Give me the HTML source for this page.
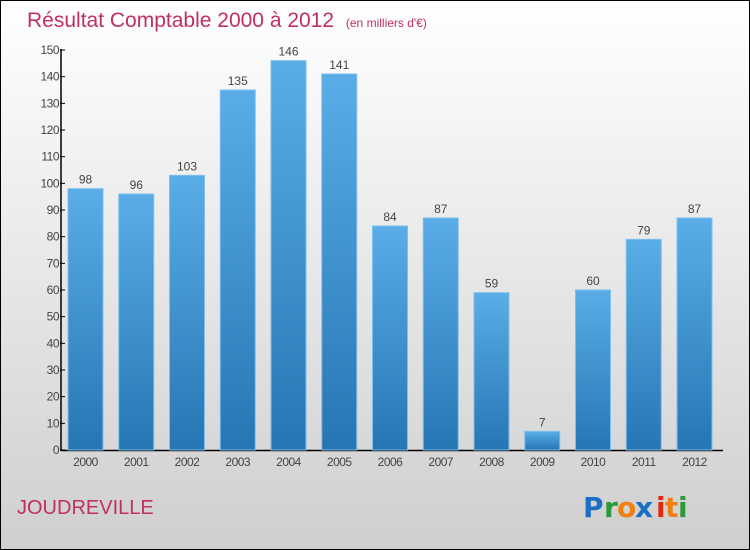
<!DOCTYPE html>
<html><head><meta charset="utf-8"><style>
html,body{margin:0;padding:0;}
body{width:750px;height:550px;overflow:hidden;font-family:"Liberation Sans",sans-serif;}
#wrap{position:relative;width:748px;height:548px;border:1px solid #000;background:linear-gradient(#ffffff 0%,#ececec 40%,#cfcfcf 100%);}
svg{position:absolute;left:0;top:0;}
</style></head><body>
<div id="wrap">
<svg id="chart" width="748" height="548">
<defs><linearGradient id="bg" x1="0" y1="0" x2="0" y2="1"><stop offset="0" stop-color="#5aade6"/><stop offset="1" stop-color="#2676b3"/></linearGradient></defs>
<text x="26" y="26" font-size="21" fill="#c0305e">Résultat Comptable 2000 à 2012 <tspan font-size="12" dx="6">(en milliers d'€)</tspan></text>
<text x="16" y="513" font-size="20" fill="#c0305e">JOUDREVILLE</text>
<g font-size="28" font-family="DejaVu Sans, sans-serif" font-weight="bold">
<text x="582" y="516" fill="#1b6fc4">P</text><text x="603" y="516" fill="#2a9a3a">r</text><text x="616" y="516" fill="#f08010">o</text><text x="634" y="516" fill="#1b6fc4">x</text><text x="655" y="516" fill="#e02a10">i</text><text x="664" y="516" fill="#f08010">t</text><text x="677" y="516" fill="#2a9a3a">i</text>
</g>
<g id="plot"></g>
</svg></div>
<script>
const categories=["2000","2001","2002","2003","2004","2005","2006","2007","2008","2009","2010","2011","2012"];
const values=[98,96,103,135,146,141,84,87,59,7,60,79,87];
const yTicks=[0,10,20,30,40,50,60,70,80,90,100,110,120,130,140,150];
const ns="http://www.w3.org/2000/svg";
const g=document.getElementById('plot');
const y0=449,yScale=400/150,axisX=60,x0=67,pitch=50.75,bw=35;
const y=v=>y0-v*yScale, x=i=>x0+i*pitch;
function mk(t,a){const e=document.createElementNS(ns,t);for(const k in a)e.setAttribute(k,a[k]);g.appendChild(e);return e;}
let ax=mk('line',{x1:axisX,y1:y(150)-1,x2:axisX,y2:y0+1,stroke:'#000','stroke-width':1.5});


let bx=mk('line',{x1:axisX,y1:y0+0.5,x2:722,y2:y0+0.5,stroke:'#000','stroke-width':1.5});


yTicks.forEach(t=>{
 let l=mk('line',{x1:axisX-1,y1:y(t),x2:axisX+4,y2:y(t),stroke:'#000'});
 
 
 let tx=mk('text',{x:axisX-2,y:y(t)+4,'font-size':12,fill:'#444','text-anchor':'end','letter-spacing':'-0.5'});
 tx.textContent=t;
 
 
});
values.forEach((v,i)=>{
 let r=mk('rect',{x:x(i),y:y(v),width:bw,height:y0-y(v),fill:'url(#bg)',stroke:'#7cc0ee','stroke-width':1});
 
 
 let vl=mk('text',{x:x(i)+bw/2,y:y(v)-5,'font-size':12,fill:'#444','text-anchor':'middle'});
 vl.textContent=v;
 
 
 let cl=mk('text',{x:x(i)+bw/2,y:y0+16,'font-size':12,fill:'#444','text-anchor':'middle','letter-spacing':'-0.5'});
 cl.textContent=categories[i];
 
 
});
</script>
</body></html>
